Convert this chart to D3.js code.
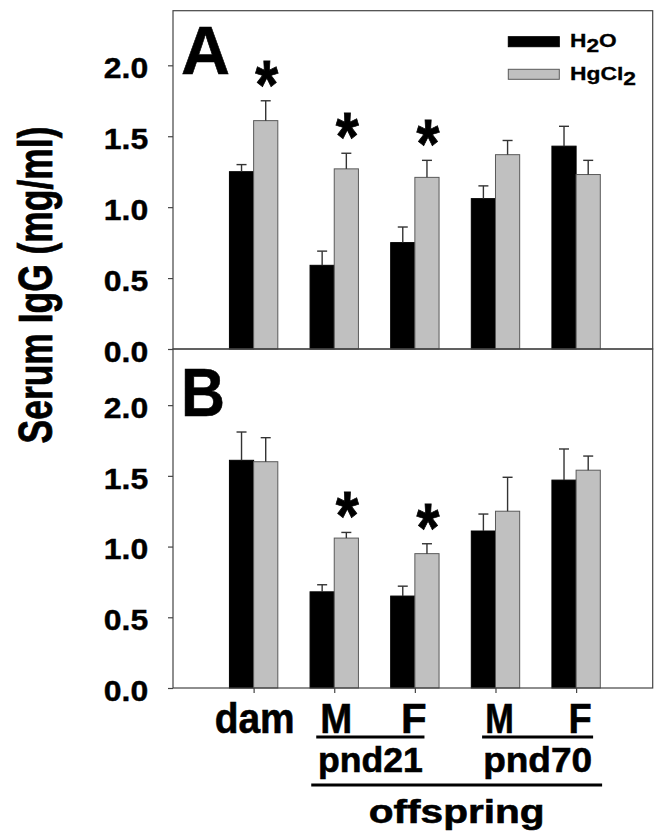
<!DOCTYPE html>
<html>
<head>
<meta charset="utf-8">
<script src="https://cdn.jsdelivr.net/npm/d3@7"></script>
<style>
  body { margin: 0; background: #fff; }
  text { font-family: "Liberation Sans", Arial, sans-serif; font-weight: bold; fill: #000; }
</style>
</head>
<body>
<script>
// groups along the x axis
const groups = ["dam", "pnd21 M", "pnd21 F", "pnd70 M", "pnd70 F"];
const groupLabels = ["dam", "M", "F", "M", "F"];
const yTicks = [0, 0.5, 1.0, 1.5, 2.0];

// panel A
const aH2O = [1.25, 0.59, 0.75, 1.06, 1.43];
const aH2OErr = [0.05, 0.10, 0.11, 0.09, 0.14];
const aHg = [1.61, 1.27, 1.21, 1.37, 1.23];
const aHgErr = [0.14, 0.11, 0.12, 0.10, 0.10];
const aSig = [0, 1, 2];

// panel B
const bH2O = [1.61, 0.68, 0.65, 1.11, 1.47];
const bH2OErr = [0.20, 0.05, 0.07, 0.12, 0.22];
const bHg = [1.60, 1.06, 0.95, 1.25, 1.54];
const bHgErr = [0.17, 0.04, 0.07, 0.24, 0.10];
const bSig = [1, 2];

const width = 662, height = 835;
const left = 173, right = 652.7;

const svg = d3.select("body").append("svg")
    .attr("width", width)
    .attr("height", height);

// text squeezed/stretched horizontally to a given width (the figure's type is not proportional)
function fitText(parent, str, x, y, size, w, anchor, rotate, weight) {
    const g = parent.append("g");
    const t = g.append("text")
        .attr("font-size", size)
        .attr("text-anchor", anchor || "start")
        .attr("stroke", "#000")
        .attr("stroke-width", weight || 0)
        .text(str);
    const len = t.node().getComputedTextLength();
    g.attr("transform", `translate(${x},${y})` + (rotate ? ` rotate(${rotate})` : "") + ` scale(${w / len},1)`);
    return t;
}

const x = d3.scaleLinear().domain([-1, 4.95]).range([left, right]);
const barW = 0.3;

const panels = [
    { label: "A", top: 10.7, bottom: 349, max: 2.385, h2o: aH2O, h2oErr: aH2OErr, hg: aHg, hgErr: aHgErr, sig: aSig, letterW: 49 },
    { label: "B", top: 349, bottom: 688, max: 2.397, h2o: bH2O, h2oErr: bH2OErr, hg: bHg, hgErr: bHgErr, sig: bSig, letterW: 44 }
];

panels.forEach((p, pi) => {
    const y = d3.scaleLinear().domain([0, p.max]).range([p.bottom, p.top]);
    const g = svg.append("g");

    // bars
    const series = [
        { vals: p.h2o, errs: p.h2oErr, off: -barW, fill: "#000", stroke: "#000" },
        { vals: p.hg, errs: p.hgErr, off: 0, fill: "#c0c0c0", stroke: "#5a5a5a" }
    ];
    series.forEach(s => {
        g.append("g").selectAll("rect")
            .data(s.vals)
            .join("rect")
            .attr("x", (d, i) => x(i + s.off))
            .attr("width", x(barW) - x(0))
            .attr("y", d => y(d))
            .attr("height", d => y(0) - y(d))
            .attr("fill", s.fill)
            .attr("stroke", s.stroke)
            .attr("stroke-width", 1);

        // error bars (upper only)
        const eb = g.append("g").attr("stroke", "#333").attr("stroke-width", 1.4);
        s.vals.forEach((d, i) => {
            const cx = x(i + s.off + barW / 2);
            eb.append("line")
                .attr("x1", cx).attr("x2", cx)
                .attr("y1", y(d)).attr("y2", y(d + s.errs[i]));
            eb.append("line")
                .attr("x1", cx - 5).attr("x2", cx + 5)
                .attr("y1", y(d + s.errs[i])).attr("y2", y(d + s.errs[i]));
        });
    });

    // significance asterisks over HgCl2 bars
    p.sig.forEach(i => {
        fitText(g, "*", x(i + barW / 2) + 1, y(p.hg[i] + p.hgErr[i]) - 41 + 48, 68, 23, "middle", 0, 0.8);
    });

    // frame
    g.append("rect")
        .attr("x", left).attr("y", p.top)
        .attr("width", right - left).attr("height", p.bottom - p.top)
        .attr("fill", "none")
        .attr("stroke", "#444")
        .attr("stroke-width", 1.2);

    // y axis ticks
    const yAxis = g.append("g")
        .attr("transform", `translate(${left},0)`)
        .call(d3.axisLeft(y).tickValues(yTicks).tickSize(5).tickFormat(""));
    yAxis.select(".domain").remove();
    yAxis.selectAll("line").attr("stroke", "#444").attr("stroke-width", 1.2);
    yAxis.selectAll("text").remove();

    // tick labels
    yTicks.forEach(v => {
        fitText(g, d3.format(".1f")(v), 148.3, y(v) + 12.8, 30, 44.5, "end", 0, 0.4);
    });

    // panel letter
    fitText(g, p.label, 181, p.top + (pi === 0 ? 63.3 : 67), 68, p.letterW, "start", 0, 0.6);

    if (pi === 1) {
        // bottom ticks at group centers
        const xAxis = g.append("g")
            .attr("transform", `translate(0,${p.bottom})`)
            .call(d3.axisBottom(x).tickValues(d3.range(groups.length)).tickSize(5).tickFormat(""));
        xAxis.select(".domain").remove();
        xAxis.selectAll("line").attr("stroke", "#444").attr("stroke-width", 1.2);
    }
});

// legend
const legend = svg.append("g");
const legendItems = [
    { fill: "#000", stroke: "#000", y: 36.7, parts: ["H", "2", "O"], len: 46.7 },
    { fill: "#c0c0c0", stroke: "#5a5a5a", y: 69.3, parts: ["HgCl", "2"], len: 66 }
];
legendItems.forEach(it => {
    legend.append("rect")
        .attr("x", 508.3).attr("y", it.y)
        .attr("width", 51).attr("height", 10)
        .attr("fill", it.fill).attr("stroke", it.stroke);
    const t = fitText(legend, "", 570, it.y + 10.6, 17.5, 1, "start", 0, 0.3);
    it.parts.forEach((s, k) => {
        const sub = s === "2";
        t.append("tspan")
            .attr("dy", sub ? 5 : (k > 0 ? -5 : 0))
            .text(s);
    });
    const len = t.node().getComputedTextLength();
    d3.select(t.node().parentNode)
        .attr("transform", `translate(570,${it.y + 10.6}) scale(${it.len / len},1)`);
});

// y axis title
fitText(svg, "Serum IgG (mg/ml)", 52, 285, 49, 317, "middle", -90, 0.8);

// category labels under the axis
const labelW = [80, 32, 25.6, 28.6, 23.2];
const labelDx = [1, 2, -1, 4, 4];
groupLabels.forEach((d, i) => {
    fitText(svg, d, x(i) + labelDx[i], 733, 42, labelW[i], "middle", 0, 0.6);
});

// bracket lines and sub-labels
const brackets = [
    { x1: x(1) - 18, x2: x(2) + 9.6, y: 737, label: "pnd21", ly: 771.7, lw: 105, fs: 35 },
    { x1: x(3) - 13.4, x2: x(4) + 17, y: 737, label: "pnd70", ly: 771.7, lw: 109, fs: 35 },
    { x1: x(1) - 23, x2: x(4) + 26, y: 785, label: "offspring", ly: 823.3, lw: 176, fs: 34 }
];
brackets.forEach(b => {
    svg.append("line")
        .attr("x1", b.x1).attr("x2", b.x2)
        .attr("y1", b.y).attr("y2", b.y)
        .attr("stroke", "#000")
        .attr("stroke-width", 3);
    fitText(svg, b.label, (b.x1 + b.x2) / 2, b.ly, b.fs, b.lw, "middle", 0, 0.6);
});
</script>
</body>
</html>
